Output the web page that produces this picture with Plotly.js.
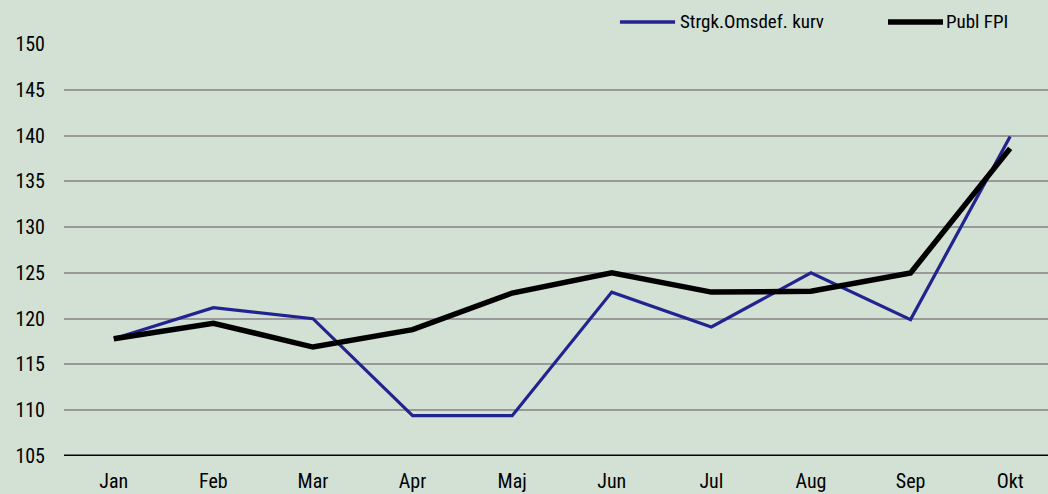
<!DOCTYPE html>
<html>
<head>
<meta charset="utf-8">
<script src="https://cdn.plot.ly/plotly-3.0.1.min.js"></script>
<style>html,body{margin:0;padding:0;background:#d2e1d4;}#chart{width:1048px;height:494px;}</style>
</head>
<body>
<div id="chart"></div>
<script>
const months = ["Jan","Feb","Mar","Apr","Maj","Jun","Jul","Aug","Sep","Okt"];
const strgkName = "Strgk.Omsdef. kurv";
const strgkValues = [117.8, 121.2, 120.0, 109.4, 109.4, 122.9, 119.1, 125.0, 119.9, 139.9];
const fpiName = "Publ FPI";
const fpiValues = [117.8, 119.5, 116.9, 118.8, 122.8, 125.0, 122.9, 123.0, 125.0, 138.6];
const yTicks = [105,110,115,120,125,130,135,140,145,150];

const FONT = '"Liberation Sans Narrow", "Roboto Condensed", "Open Sans", sans-serif';
const BLUE = '#232390';

const traces = [
  {x: months, y: strgkValues, name: strgkName, type: 'scatter', mode: 'lines',
   line: {color: BLUE, width: 3.2}},
  {x: months, y: fpiValues, name: fpiName, type: 'scatter', mode: 'lines',
   line: {color: '#000000', width: 5.5}}
];

// legend drawn manually (line sample + label)
const LEG_Y = 1.0534;
const legendItems = [
  {name: strgkName, color: BLUE, width: 3.5, x0: 0.565, x1: 0.621, tx: 0.6235},
  {name: fpiName, color: '#000000', width: 5.5, x0: 0.8374, x1: 0.8933, tx: 0.8945}
];

const layout = {
  width: 1048, height: 494,
  paper_bgcolor: '#d2e1d4', plot_bgcolor: '#d2e1d4',
  margin: {l: 64, r: 0, t: 44, b: 38},
  font: {family: FONT, size: 19, color: '#000'},
  showlegend: false,
  xaxis: {type: 'category', range: [-0.5, 9.38], showgrid: false, zeroline: false,
          showline: false, ticks: '', ticklabelstandoff: 11,
          tickfont: {family: FONT, size: 20, color: '#000'}},
  yaxis: {range: [105, 150], tickvals: yTicks, ticktext: yTicks.map(String),
          showgrid: true, gridcolor: '#999999', gridwidth: 2, zeroline: false,
          showline: false, ticks: '', ticklabelstandoff: 18,
          tickfont: {family: FONT, size: 20, color: '#000'}},
  shapes: [{type: 'line', xref: 'paper', yref: 'y', x0: 0, x1: 1, y0: 105, y1: 105,
            line: {color: '#000', width: 3}}].concat(legendItems.map(it => ({
            type: 'line', xref: 'paper', yref: 'paper', x0: it.x0, x1: it.x1,
            y0: LEG_Y, y1: LEG_Y, line: {color: it.color, width: it.width}}))),
  annotations: legendItems.map(it => ({
    xref: 'paper', yref: 'paper', x: it.tx, y: LEG_Y, xanchor: 'left', yanchor: 'middle',
    text: it.name, showarrow: false, font: {family: FONT, size: 19, color: '#000'}}))
};

Plotly.newPlot('chart', traces, layout, {displayModeBar: false, staticPlot: true});
</script>
</body>
</html>
